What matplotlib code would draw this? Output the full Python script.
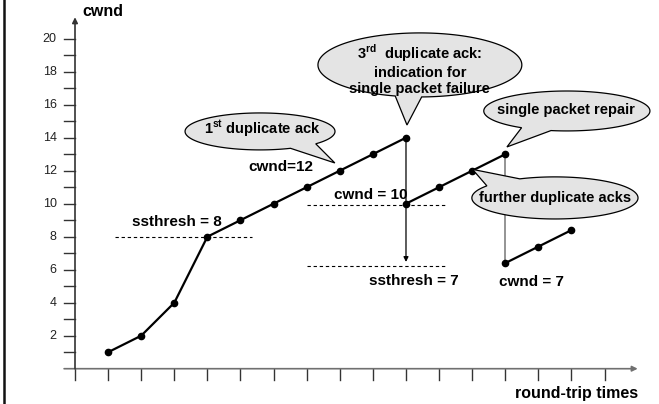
import numpy as np
import matplotlib
matplotlib.use("Agg")
import matplotlib.pyplot as plt
from matplotlib.patches import Polygon
from matplotlib.lines import Line2D

plt.rcParams['font.family'] = ['Liberation Sans', 'DejaVu Sans']
plt.rcParams['mathtext.fontset'] = 'custom'
plt.rcParams['mathtext.rm'] = 'Liberation Sans:bold'
plt.rcParams['mathtext.bf'] = 'Liberation Sans:bold'

# congestion window per round-trip time
rtt_start = [1, 2, 3, 4, 5, 6, 7, 8, 9, 10]
cwnd_start = [1, 2, 4, 8, 9, 10, 11, 12, 13, 14]
rtt_fast = [10, 11, 12, 13]
cwnd_fast = [10, 11, 12, 13]
rtt_after = [13, 14, 15]
cwnd_after = [6.4, 7.4, 8.4]

x_ticks = list(range(0, 17))
y_ticks = list(range(1, 21))
y_labels = list(range(2, 21, 2))

fig = plt.figure(figsize=(6.59, 4.04), dpi=100)
ax = fig.add_axes([0, 0, 1, 1])
ax.set_xlim(-2.266, 17.644)
ax.set_ylim(-2.139, 22.345)
ax.axis('off')

# left border of the slide
fig.add_artist(Line2D([0.0065, 0.0065], [0, 1], transform=fig.transFigure,
                      color='#111111', lw=1.8))

axis_col = '#707070'
# axes with arrow heads
ax.annotate('', xy=(17.0, 0), xytext=(-0.33, 0),
            arrowprops=dict(arrowstyle='-|>', color=axis_col, lw=1.2,
                            mutation_scale=8, shrinkA=0, shrinkB=0))
ax.annotate('', xy=(0, 21.3), xytext=(0, 0),
            arrowprops=dict(arrowstyle='-|>', color='#333333', lw=1.2,
                            mutation_scale=8, shrinkA=0, shrinkB=0))
for t in x_ticks:
    ax.plot([t, t], [0, -0.7], color='#333333', lw=1)
for t in y_ticks:
    ax.plot([-0.33, 0], [t, t], color='#333333', lw=1)
for t in y_labels:
    ax.text(-0.55, t, str(t), ha='right', va='center', fontsize=9, color='#222222')

ax.text(0.21, 21.62, 'cwnd', ha='left', va='center', fontsize=11.5, fontweight='bold')
ax.text(17.0, -1.53, 'round-trip times', ha='right', va='center', fontsize=11.5,
        fontweight='bold')

# threshold lines
dash = (0, (3, 2.5))
ax.plot([1.2, 5.35], [8, 8], color='black', lw=0.8, linestyle=dash)
ax.plot([7.0, 11.2], [9.9, 9.9], color='black', lw=0.8, linestyle=dash)
ax.plot([7.0, 11.2], [6.22, 6.22], color='black', lw=0.8, linestyle=dash)

# drops
ax.annotate('', xy=(rtt_start[-1], 6.47), xytext=(rtt_start[-1], cwnd_start[-1]),
            arrowprops=dict(arrowstyle='-|>', color='black', lw=0.9,
                            mutation_scale=7, shrinkA=0, shrinkB=0))
ax.plot([rtt_fast[-1], rtt_after[0]], [cwnd_fast[-1], cwnd_after[0]],
        color='#777777', lw=1.1)

for xs, ys in [(rtt_start, cwnd_start), (rtt_fast, cwnd_fast), (rtt_after, cwnd_after)]:
    ax.plot(xs, ys, color='black', lw=1.6, marker='o', markersize=4.5, zorder=5)

lbl = dict(fontsize=11, fontweight='bold', va='center', ha='left')
ax.text(1.71, 8.91, 'ssthresh = 8', **lbl)
ax.text(5.24, 12.24, 'cwnd=12', **lbl)
ax.text(7.82, 10.55, 'cwnd = 10', **lbl)
ax.text(8.88, 5.33, 'ssthresh = 7', **lbl)
ax.text(12.82, 5.27, 'cwnd = 7', **lbl)


def callout(cx, cy, w, h, t1, t2, tip, text, tx, ty):
    a, b = w / 2, h / 2
    ts = np.radians(np.linspace(t2, t1 + 360, 200))
    pts = [(cx + a * np.cos(t), cy + b * np.sin(t)) for t in ts]
    pts.append(tip)
    ax.add_patch(Polygon(pts, closed=True, facecolor='#e4e4e4', edgecolor='black',
                         lw=0.9, zorder=6))
    ax.text(tx, ty, text, ha='center', va='center', fontsize=10.5,
            fontweight='bold', zorder=7, linespacing=1.15)


callout(5.59, 14.38, 4.53, 2.24, -66, -42, (7.85, 12.47),
        r'1$^{\mathbf{st}}$ duplicate ack', 5.65, 14.51)
callout(10.42, 18.41, 6.16, 3.88, -104, -89, (10.03, 14.77),
        '3$^{\\mathbf{rd}}$  duplicate ack:\nindication for\nsingle packet failure',
        10.42, 18.16)
callout(14.86, 15.62, 5.02, 2.42, -123, -101, (13.05, 13.44),
        'single packet repair', 14.83, 15.68)
callout(14.50, 10.35, 5.02, 2.55, 115, 145, (12.01, 12.08),
        'further duplicate acks', 14.50, 10.33)

fig.savefig('out.png', dpi=100)
